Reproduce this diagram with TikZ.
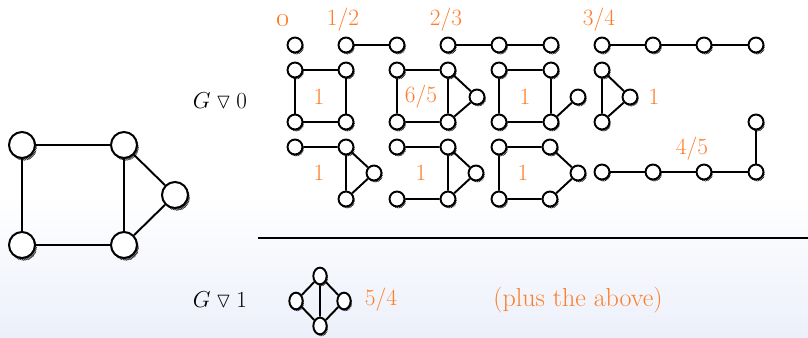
\documentclass[tikz,border=0pt]{standalone}
\usepackage{amssymb}
\usetikzlibrary{shadows,patterns,shapes.geometric}
\pgfdeclarepatternformonly{hatch}{\pgfqpoint{-1pt}{-1pt}}{\pgfqpoint{2pt}{2pt}}{\pgfqpoint{1.4pt}{1.4pt}}{%
  \pgfsetlinewidth{0.55pt}%
  \pgfpathmoveto{\pgfqpoint{-0.1pt}{-0.1pt}}%
  \pgfpathlineto{\pgfqpoint{1.5pt}{1.5pt}}%
  \pgfusepath{stroke}}
\definecolor{org}{RGB}{255,125,40}
\definecolor{bgb}{RGB}{236,240,250}
\tikzset{
  vbase/.style={circle, draw, fill=white, inner sep=0pt},
  sv/.style={vbase, line width=1.45pt, minimum size=11.2pt,
    drop shadow={shadow xshift=1pt, shadow yshift=-1.4pt, opacity=1, pattern=hatch, pattern color=black!85}},
  bv/.style={vbase, line width=1.5pt, minimum size=19.5pt,
    drop shadow={shadow xshift=1.4pt, shadow yshift=-2pt, opacity=1, pattern=hatch, pattern color=black!85}},
  ev/.style={ellipse, draw, fill=white, inner sep=0pt, line width=1.45pt, minimum width=10pt, minimum height=12.5pt,
    drop shadow={shadow xshift=1pt, shadow yshift=-1.4pt, opacity=1, pattern=hatch, pattern color=black!85}},
  e/.style={line width=1.45pt},
  lab/.style={text=org, inner sep=0pt, font=\fontsize{17.5}{19}\selectfont},
  blab/.style={inner sep=0pt, font=\fontsize{16}{18}\selectfont},
}
\begin{document}
\begin{tikzpicture}[x=0.75pt, y=-0.75pt]
\useasboundingbox (0,0) rectangle (808,338);
\fill[white] (0,0) rectangle (808,338);
\shade[top color=white, bottom color=bgb] (0,195) rectangle (808,338);

% big graph
\node[bv] (B1) at (22,145) {};
\node[bv] (B2) at (124,145) {};
\node[bv] (B3) at (175,195) {};
\node[bv] (B4) at (22,245) {};
\node[bv] (B5) at (124,245) {};
\draw[e] (B1) -- (B2) (B1) -- (B4) (B4) -- (B5) (B2) -- (B5) (B2) -- (B3) (B3) -- (B5);

% labels G
\node[blab] (G0) at (220,101) {$G \mathbin{\triangledown} 0$};
\node[blab] (G1) at (220,300) {$G \mathbin{\triangledown} 1$};

% row 0
\node[lab, font=\fontsize{20}{22}\selectfont] (l0) at (283,21) {\oldstylenums{0}};
\node[sv] (z0) at (295,45) {};
\node[lab] (l12) at (343,20) {1/2};
\node[sv] (h1) at (346,45) {};
\node[sv] (h2) at (397,45) {};
\draw[e] (h1) -- (h2);
\node[lab] (l23) at (446,20) {2/3};
\node[sv] (t1) at (448,45) {};
\node[sv] (t2) at (499,45) {};
\node[sv] (t3) at (551,45) {};
\draw[e] (t1) -- (t2) -- (t3);
\node[lab] (l34) at (599,20) {3/4};
\node[sv] (q1) at (602,45) {};
\node[sv] (q2) at (653,45) {};
\node[sv] (q3) at (704,45) {};
\node[sv] (q4) at (756,45) {};
\draw[e] (q1) -- (q2) -- (q3) -- (q4);

% row 1
\node[sv] (s1) at (295,70) {};
\node[sv] (s2) at (346,70) {};
\node[sv] (s3) at (295,122) {};
\node[sv] (s4) at (346,122) {};
\draw[e] (s1) -- (s2) (s1) -- (s3) (s3) -- (s4) (s2) -- (s4);
\node[lab] (ls) at (319,97) {1};

\node[sv] (u1) at (397,70) {};
\node[sv] (u2) at (448,70) {};
\node[sv] (u3) at (397,122) {};
\node[sv] (u4) at (448,122) {};
\node[sv] (u5) at (477,97) {};
\draw[e] (u1) -- (u2) (u1) -- (u3) (u3) -- (u4) (u2) -- (u4) (u2) -- (u5) (u5) -- (u4);
\node[lab] (lu) at (421,97) {6/5};

\node[sv] (p1) at (499,70) {};
\node[sv] (p2) at (551,70) {};
\node[sv] (p3) at (499,122) {};
\node[sv] (p4) at (551,122) {};
\node[sv] (p5) at (578,97) {};
\draw[e] (p1) -- (p2) (p1) -- (p3) (p3) -- (p4) (p2) -- (p4) (p4) -- (p5);
\node[lab] (lp) at (525,97) {1};

\node[sv] (r1) at (602,70) {};
\node[sv] (r2) at (602,122) {};
\node[sv] (r3) at (630,97) {};
\draw[e] (r1) -- (r2) (r1) -- (r3) (r3) -- (r2);
\node[lab] (lr) at (654,97) {1};

% row 2
\node[sv] (a1) at (295,147) {};
\node[sv] (a2) at (346,147) {};
\node[sv] (a3) at (374,173) {};
\node[sv] (a4) at (346,199) {};
\draw[e] (a1) -- (a2) (a2) -- (a4) (a2) -- (a3) (a3) -- (a4);
\node[lab] (la) at (319,173) {1};

\node[sv] (w1) at (397,147) {};
\node[sv] (w2) at (448,147) {};
\node[sv] (w3) at (476,173) {};
\node[sv] (w4) at (397,199) {};
\node[sv] (w5) at (448,199) {};
\draw[e] (w1) -- (w2) (w2) -- (w5) (w2) -- (w3) (w3) -- (w5) (w4) -- (w5);
\node[lab] (lw) at (421,173) {1};

\node[sv] (g1) at (499,147) {};
\node[sv] (g2) at (550,147) {};
\node[sv] (g3) at (578,173) {};
\node[sv] (g4) at (499,199) {};
\node[sv] (g5) at (550,199) {};
\draw[e] (g1) -- (g2) -- (g3) -- (g5) -- (g4) -- (g1);
\node[lab] (lg) at (523,173) {1};

\node[sv] (k1) at (602,172) {};
\node[sv] (k2) at (653,172) {};
\node[sv] (k3) at (704,172) {};
\node[sv] (k4) at (756,172) {};
\node[sv] (k5) at (756,122) {};
\draw[e] (k1) -- (k2) -- (k3) -- (k4) -- (k5);
\node[lab] (lk) at (692,149) {4/5};

% separator
\coordinate (L1) at (258,238);
\coordinate (L2) at (808,238);
\draw[line width=1.7pt] (L1) -- (L2);

% bottom graph
\node[ev] (m1) at (320,276) {};
\node[ev] (m2) at (296,301) {};
\node[ev] (m3) at (344,301) {};
\node[ev] (m4) at (320,326) {};
\draw[e] (m1) -- (m2) (m1) -- (m3) (m2) -- (m4) (m3) -- (m4) (m1) -- (m4);
\node[lab] (lm) at (381,300) {5/4};
\node[lab, font=\fontsize{19.5}{21}\selectfont] (plus) at (578,300) {(plus the above)};
\end{tikzpicture}
\end{document}
